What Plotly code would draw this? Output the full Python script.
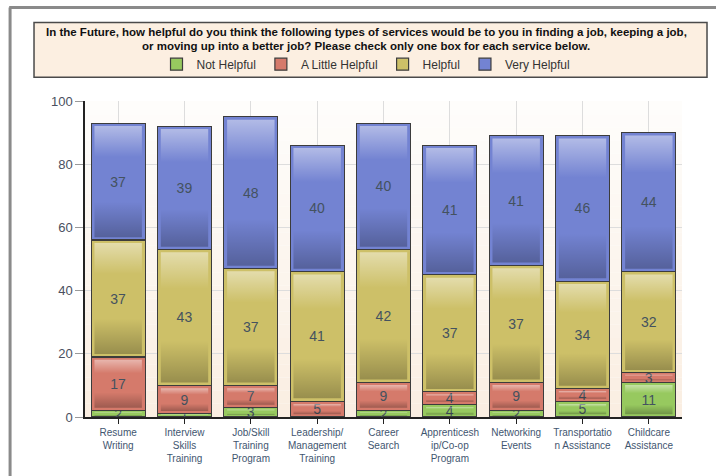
import plotly.graph_objects as go

# Survey: perceived helpfulness of future services (counts of respondents)
services = [
    "Resume<br>Writing",
    "Interview<br>Skills<br>Training",
    "Job/Skill<br>Training<br>Program",
    "Leadership/<br>Management<br>Training",
    "Career<br>Search",
    "Apprenticesh<br>ip/Co-op<br>Program",
    "Networking<br>Events",
    "Transportatio<br>n Assistance",
    "Childcare<br>Assistance",
]
not_helpful = [2, 1, 3, 0, 2, 4, 2, 5, 11]
a_little_helpful = [17, 9, 7, 5, 9, 4, 9, 4, 3]
helpful = [37, 43, 37, 41, 42, 37, 37, 34, 32]
very_helpful = [37, 39, 48, 40, 40, 41, 41, 46, 44]

y_ticks = [0, 20, 40, 60, 80, 100]

series = [
    ("Not Helpful", not_helpful, "#97c95f"),
    ("A Little Helpful", a_little_helpful, "#d57a6b"),
    ("Helpful", helpful, "#cdc068"),
    ("Very Helpful", very_helpful, "#7383d2"),
]

BARGAP = 0.185
FONT = "Liberation Sans, Arial, sans-serif"

fig = go.Figure()
for name, vals, color in series:
    fig.add_trace(go.Bar(
        name=name,
        x=services,
        y=vals,
        text=[str(v) if v else "" for v in vals],
        textposition="inside",
        insidetextanchor="middle",
        textangle=0,
        textfont=dict(family=FONT, size=14, color="#44525f"),
        marker=dict(color=color, line=dict(color="#3c3c3c", width=1.2)),
    ))

# Glossy shading on each stacked segment: lighter top, darker bottom,
# inset slightly so the plain segment colour shows as a rim.
half = (1 - BARGAP) / 2
inset_x = 0.05
shade = [
    [0.0, "rgba(0,0,0,0.26)"],
    [0.32, "rgba(0,0,0,0)"],
    [0.72, "rgba(255,255,255,0)"],
    [1.0, "rgba(255,255,255,0.45)"],
]
base = [0] * len(services)
for name, vals, color in series:
    for i, v in enumerate(vals):
        if v > 0:
            iy = min(0.9, v * 0.2)
            x0, x1 = i - half + inset_x, i + half - inset_x
            y0, y1 = base[i] + iy, base[i] + v - iy
            fig.add_trace(go.Scatter(
                x=[x0, x1, x1, x0, x0], y=[y0, y0, y1, y1, y0],
                xaxis="x2", mode="lines", line=dict(width=0),
                fill="toself", fillcolor="rgba(0,0,0,0)",
                fillgradient=dict(type="vertical", colorscale=shade),
                hoverinfo="skip", showlegend=False,
            ))
        base[i] += v

# Plot background: soft vertical wash from white (top) to cream (bottom)
shapes = []
bands = 24
top_rgb = (254, 253, 251)
bot_rgb = (250, 238, 226)
for i in range(bands):
    t = i / (bands - 1)
    r = round(top_rgb[0] + (bot_rgb[0] - top_rgb[0]) * t)
    g = round(top_rgb[1] + (bot_rgb[1] - top_rgb[1]) * t)
    b = round(top_rgb[2] + (bot_rgb[2] - top_rgb[2]) * t)
    shapes.append(dict(
        type="rect", xref="paper", yref="paper", layer="below",
        x0=0, x1=1, y0=1 - (i + 1) / bands, y1=1 - i / bands,
        fillcolor=f"rgb({r},{g},{b})", line=dict(width=0),
    ))

# Outer frame lines (top and left)
shapes.append(dict(type="line", xref="paper", yref="paper",
                   x0=-0.127, x1=1.06, y0=1.2956, y1=1.2956,
                   line=dict(color="#8a8a8a", width=3)))
shapes.append(dict(type="line", xref="paper", yref="paper",
                   x0=-0.1255, x1=-0.1255, y0=1.2956, y1=-0.2,
                   line=dict(color="#8a8a8a", width=3)))

# Header box holding the question and the legend
shapes.append(dict(type="rect", xref="paper", yref="paper", layer="above",
                   x0=-0.0854, x1=1.0419, y0=1.0755, y1=1.2484,
                   fillcolor="#fcefe1", line=dict(color="#4a4a4a", width=1.5)))

title_font = dict(family=FONT, size=11.5, color="#111111", weight="bold")
title_lines = [
    "In the Future, how helpful do you think the following types of services would be to you in finding a job, keeping a job,",
    "or moving up into a better job? Please check only one box for each service below.",
]
annotations = [
    dict(text=title_lines[0], xref="paper", yref="paper", x=0.4707, y=1.2170,
         xanchor="center", yanchor="middle", showarrow=False, font=title_font),
    dict(text=title_lines[1], xref="paper", yref="paper", x=0.4707, y=1.1745,
         xanchor="center", yanchor="middle", showarrow=False, font=title_font),
]

fig.update_layout(
    width=716, height=476,
    margin=dict(l=85, r=34, t=101, b=57),
    paper_bgcolor="white",
    plot_bgcolor="rgba(0,0,0,0)",
    barmode="stack",
    bargap=BARGAP,
    shapes=shapes,
    annotations=annotations,
    uniformtext=dict(mode="show", minsize=14),
    font=dict(family=FONT),
    legend=dict(
        orientation="h", x=0.4707, xanchor="center", y=1.1164, yanchor="middle",
        bgcolor="rgba(0,0,0,0)", font=dict(size=12, color="#333333"),
        traceorder="normal",
    ),
    xaxis=dict(
        range=[-0.5, len(services) - 0.5],
        showline=True, linecolor="#222222", linewidth=1.5,
        showgrid=True, gridcolor="#dddddd", gridwidth=1,
        ticks="outside", ticklen=5, tickcolor="#222222",
        tickfont=dict(size=10, color="#3f5670"),
        tickangle=0,
    ),
    xaxis2=dict(
        overlaying="x", range=[-0.5, len(services) - 0.5],
        visible=False, fixedrange=True,
    ),
    yaxis=dict(
        range=[0, 100], tickvals=y_ticks,
        showline=True, linecolor="#222222", linewidth=1.5,
        showgrid=True, gridcolor="#dddddd", gridwidth=1,
        ticks="outside", ticklen=8, tickcolor="#999999",
        tickfont=dict(size=13, color="#4a5060"),
        zeroline=False,
    ),
)

fig.write_html("out.html")
